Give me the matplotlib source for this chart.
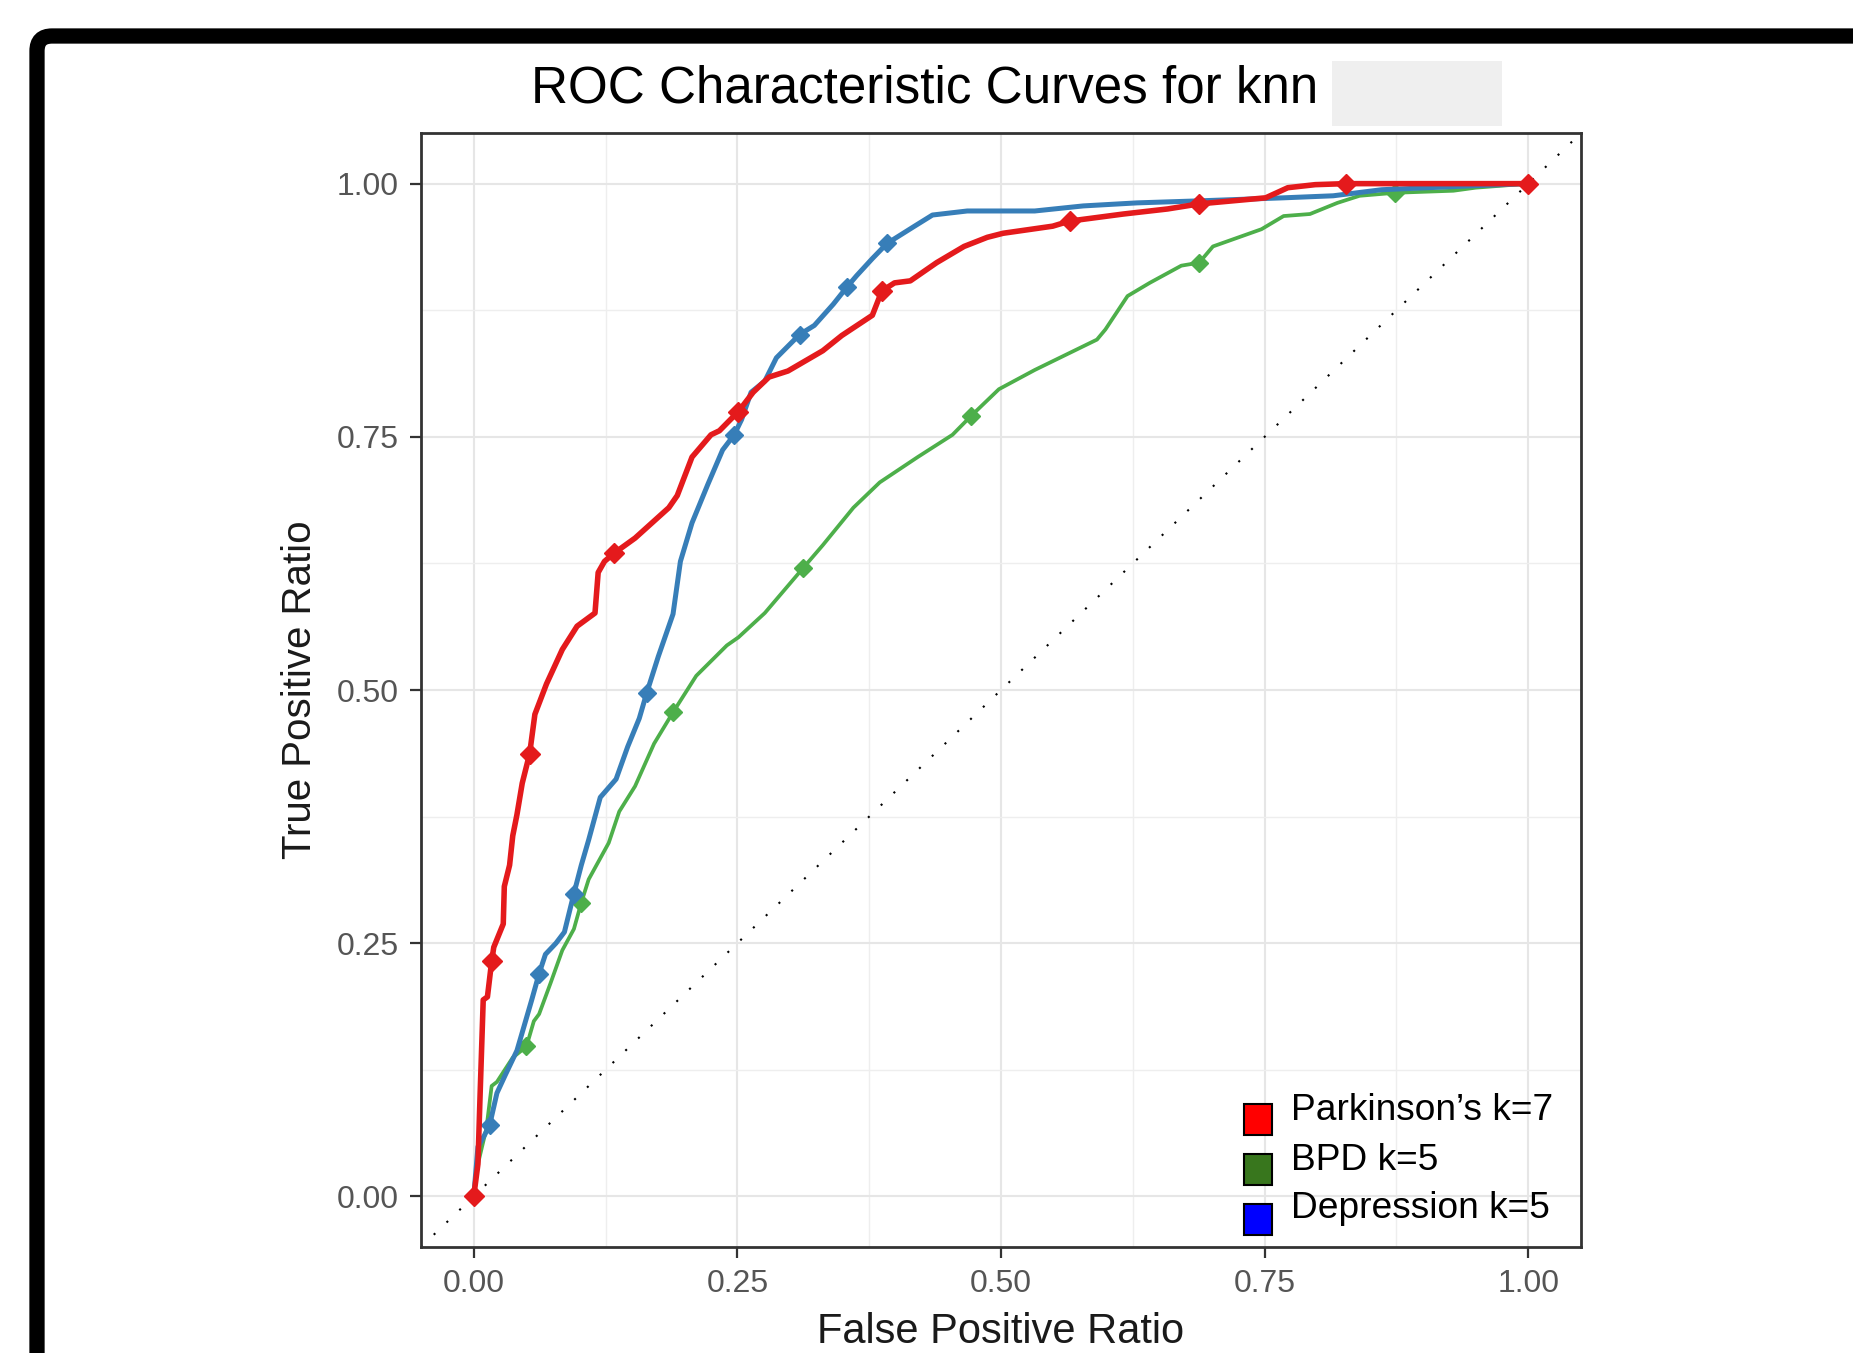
import matplotlib.pyplot as plt
from matplotlib.patches import FancyBboxPatch, Rectangle
from matplotlib.ticker import MultipleLocator

plt.rcParams['font.family'] = ['Liberation Sans', 'DejaVu Sans']

# ROC curves (false positive ratio, true positive ratio)
park_fpr = [0, 0.004, 0.006, 0.009, 0.013, 0.017, 0.019, 0.028, 0.029, 0.034, 0.037, 0.041,
            0.046, 0.053, 0.058, 0.069, 0.084, 0.098, 0.115, 0.118, 0.124, 0.133, 0.153, 0.185,
            0.193, 0.207, 0.225, 0.233, 0.251, 0.265, 0.280, 0.298, 0.331, 0.349, 0.378, 0.387,
            0.399, 0.414, 0.439, 0.465, 0.487, 0.502, 0.549, 0.565, 0.616, 0.658, 0.688, 0.751,
            0.772, 0.798, 0.827, 1.0]
park_tpr = [0, 0.032, 0.099, 0.194, 0.197, 0.232, 0.246, 0.269, 0.306, 0.327, 0.356, 0.377,
            0.408, 0.437, 0.476, 0.506, 0.540, 0.563, 0.576, 0.616, 0.627, 0.635, 0.650, 0.680,
            0.692, 0.730, 0.752, 0.756, 0.775, 0.794, 0.809, 0.815, 0.835, 0.850, 0.870, 0.894,
            0.902, 0.904, 0.922, 0.938, 0.947, 0.951, 0.958, 0.963, 0.970, 0.975, 0.980, 0.986,
            0.996, 0.999, 1.0, 1.0]

dep_fpr = [0, 0.004, 0.010, 0.015, 0.022, 0.030, 0.041, 0.055, 0.062, 0.068, 0.078, 0.086,
           0.095, 0.102, 0.109, 0.120, 0.135, 0.146, 0.157, 0.164, 0.175, 0.189, 0.196, 0.207,
           0.222, 0.236, 0.247, 0.254, 0.263, 0.276, 0.287, 0.309, 0.323, 0.341, 0.354, 0.363,
           0.378, 0.392, 0.418, 0.435, 0.468, 0.532, 0.578, 0.629, 0.688, 0.768, 0.815, 0.861,
           0.950, 1.0]
dep_tpr = [0, 0.049, 0.060, 0.070, 0.102, 0.120, 0.144, 0.194, 0.220, 0.239, 0.250, 0.261,
           0.299, 0.327, 0.352, 0.394, 0.412, 0.444, 0.472, 0.497, 0.533, 0.575, 0.627, 0.665,
           0.703, 0.737, 0.752, 0.767, 0.794, 0.805, 0.828, 0.851, 0.860, 0.881, 0.898, 0.909,
           0.926, 0.941, 0.958, 0.969, 0.973, 0.973, 0.978, 0.981, 0.983, 0.986, 0.988, 0.994,
           0.998, 1.0]

bpd_fpr = [0, 0.004, 0.012, 0.017, 0.022, 0.037, 0.050, 0.057, 0.062, 0.073, 0.084, 0.095,
           0.102, 0.109, 0.128, 0.138, 0.153, 0.171, 0.189, 0.211, 0.240, 0.251, 0.276, 0.312,
           0.331, 0.360, 0.385, 0.421, 0.454, 0.472, 0.498, 0.532, 0.591, 0.599, 0.620, 0.641,
           0.671, 0.688, 0.701, 0.747, 0.768, 0.793, 0.819, 0.840, 0.874, 0.929, 0.950, 1.0]
bpd_tpr = [0, 0.032, 0.067, 0.109, 0.113, 0.137, 0.148, 0.173, 0.180, 0.211, 0.243, 0.264,
           0.290, 0.313, 0.349, 0.380, 0.405, 0.447, 0.478, 0.514, 0.544, 0.552, 0.576, 0.620,
           0.643, 0.680, 0.705, 0.730, 0.752, 0.771, 0.797, 0.816, 0.846, 0.856, 0.889, 0.902,
           0.919, 0.922, 0.938, 0.955, 0.968, 0.970, 0.981, 0.988, 0.991, 0.993, 0.996, 1.0]

# cutoff points marked on each curve
park_pts_x = [0, 0.017, 0.053, 0.133, 0.251, 0.387, 0.565, 0.688, 0.827, 1.0]
park_pts_y = [0, 0.232, 0.437, 0.635, 0.775, 0.894, 0.963, 0.980, 1.0, 1.0]
dep_pts_x = [0.015, 0.062, 0.095, 0.164, 0.247, 0.309, 0.354, 0.392]
dep_pts_y = [0.070, 0.220, 0.299, 0.497, 0.752, 0.851, 0.898, 0.941]
bpd_pts_x = [0.050, 0.102, 0.189, 0.312, 0.472, 0.688, 0.874]
bpd_pts_y = [0.148, 0.290, 0.478, 0.620, 0.771, 0.922, 0.991]

ticks = [0, 0.25, 0.5, 0.75, 1.0]
tick_labels = ['0.00', '0.25', '0.50', '0.75', '1.00']

legend_labels = ['Parkinson\u2019s k=7', 'BPD k=5', 'Depression k=5']
legend_colors = ['#ff0000', '#38761d', '#0000ff']

W, H = 1853, 1353
fig = plt.figure(figsize=(W / 100, H / 100), dpi=100)
fig.patch.set_facecolor('white')

ax = fig.add_axes([421 / W, (H - 1247) / H, 1160 / W, 1114 / H])
ax.set_xlim(-0.05, 1.05)
ax.set_ylim(-0.05, 1.05)

# grid like theme_bw
ax.set_xticks(ticks)
ax.set_yticks(ticks)
ax.set_xticklabels(tick_labels)
ax.set_yticklabels(tick_labels)
ax.xaxis.set_minor_locator(MultipleLocator(0.125))
ax.yaxis.set_minor_locator(MultipleLocator(0.125))
ax.grid(True, which='major', color='#e6e6e6', linewidth=1.5)
ax.grid(True, which='minor', color='#eeeeee', linewidth=1.0)
ax.set_axisbelow(True)
ax.tick_params(which='minor', length=0)
ax.tick_params(which='major', length=8, width=1.6, color='#333333',
               labelsize=23, labelcolor='#555555', pad=8)
for sp in ax.spines.values():
    sp.set_color('#333333')
    sp.set_linewidth(2)

# chance line
ax.axline((0, 0), (1, 1), color='black', linewidth=1.5, linestyle=(0, (1, 7.5)), zorder=1)

ax.plot(bpd_fpr, bpd_tpr, color='#4daf4a', linewidth=2.7, zorder=2)
ax.plot(bpd_pts_x, bpd_pts_y, 'D', color='#4daf4a', markersize=9, zorder=2)
ax.plot(dep_fpr, dep_tpr, color='#377eb8', linewidth=3.6, zorder=3)
ax.plot(dep_pts_x, dep_pts_y, 'D', color='#377eb8', markersize=9, zorder=3)
ax.plot(park_fpr, park_tpr, color='#e41a1c', linewidth=4.0, zorder=4)
ax.plot(park_pts_x, park_pts_y, 'D', color='#e41a1c', markersize=10, zorder=4)

ax.set_xlabel('False Positive Ratio', fontsize=30, color='#1a1a1a', labelpad=9)
ax.set_ylabel('True Positive Ratio', fontsize=29, color='#1a1a1a', labelpad=13)

# title, with the blanked-out part
fig.text(531 / W, (H - 89) / H, 'ROC Characteristic Curves for knn',
         fontsize=36.8, color='black', ha='left', va='center')
fig.add_artist(Rectangle((1332 / W, (H - 126) / H), 170 / W, 65 / H,
                         transform=fig.transFigure, facecolor='#efefef', edgecolor='none'))

# legend pasted on top of the panel
for i, (lab, col) in enumerate(zip(legend_labels, legend_colors)):
    y_top = 1104 + 50 * i
    fig.add_artist(Rectangle((1244 / W, (H - y_top - 31) / H), 28 / W, 31 / H,
                             transform=fig.transFigure, facecolor=col,
                             edgecolor='black', linewidth=1.5, zorder=10))
    fig.text(1291 / W, (H - 1111 - 49 * i) / H, lab, fontsize=26.7,
             color='black', ha='left', va='center', zorder=10)

# black slide frame, top-left corner
fig.add_artist(FancyBboxPatch((0.37, -1.0), 20.0, 14.17,
                              boxstyle='round,pad=0,rounding_size=0.15',
                              transform=fig.dpi_scale_trans, facecolor='none',
                              edgecolor='black', linewidth=11))

fig.savefig('out.png', dpi=100)
